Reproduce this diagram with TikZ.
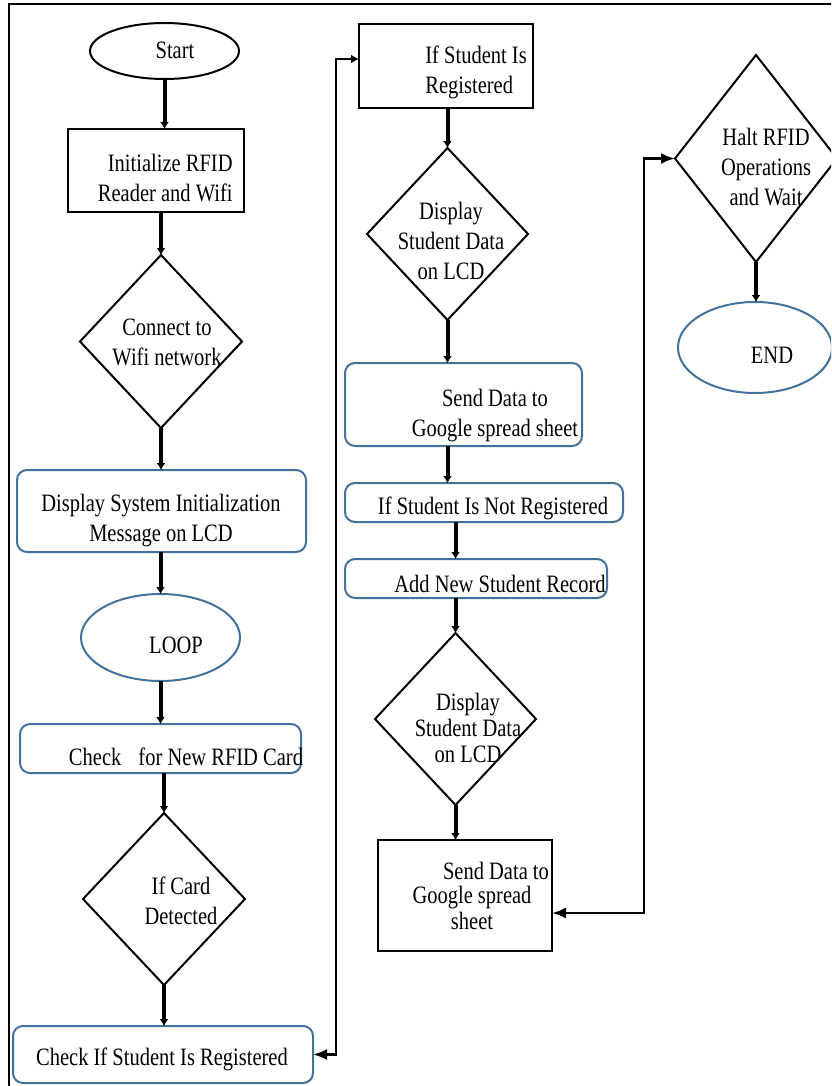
\documentclass[tikz,border=0pt]{standalone}
\usepackage{fontspec}
\setmainfont{Liberation Serif}[FakeStretch=0.82]
\usepackage{tikz}
\usetikzlibrary{shapes.geometric,arrows.meta,calc}
\definecolor{boxblue}{RGB}{65,113,156}
\tikzset{
	txt/.style={align=center,inner sep=0pt,font=\fontsize{12.5}{15}\selectfont},
	oval/.style={ellipse,draw=boxblue,line width=1pt,inner sep=0pt,outer sep=0pt},
	sqbox/.style={rectangle,draw=black,line width=1pt,inner sep=0pt,outer sep=0pt},
	rbox/.style={rectangle,rounded corners=5pt,draw=boxblue,line width=1pt,inner sep=0pt,outer sep=0pt},
	dia/.style={diamond,draw=black,line width=1pt,inner sep=0pt,outer sep=0pt},
	flow/.style={-{Latex[length=3.5pt,width=4.5pt]},line width=2pt},
	back/.style={{Latex[length=7pt,width=5.5pt]}-{Latex[length=7pt,width=5.5pt]},line width=1.2pt},
	backsmall/.style={{Latex[length=7pt,width=5.5pt]}-{Latex[length=4pt,width=4.5pt]},line width=1.2pt},
}
\begin{document}
\begin{tikzpicture}[x=0.5pt,y=-0.5pt]
	\useasboundingbox (0,0) rectangle (831,1086);
	\clip (0,0) rectangle (831,1086);
	\draw[line width=1.2pt] (9,1100) -- (9,4) -- (845,4);
	% left column
	\node[oval,draw=black,minimum width=74.5pt,minimum height=28pt] (start) at (164.5,51) {};
	\node[txt] (startT) at (175,50) {Start};
	\node[sqbox,minimum width=88pt,minimum height=41.5pt] (init) at (156,170.5) {};
	\node[txt,align=right,anchor=east] (initT) at (233,178) {Initialize RFID\\Reader and Wifi};
	\node[dia,minimum width=81pt,minimum height=86.5pt] (conn) at (161,341.5) {};
	\node[txt] (connT) at (167,342) {Connect to\\Wifi network};
	\node[rbox,minimum width=144.5pt,minimum height=41pt] (disp) at (161.5,511) {};
	\node[txt] (dispT) at (161,521) {Display System Initialization\\Message on LCD};
	\node[oval,minimum width=79.5pt,minimum height=43.5pt] (loop) at (160.5,637.5) {};
	\node[txt] (loopT) at (176,645) {LOOP};
	\node[rbox,minimum width=140.5pt,minimum height=24.5pt] (check) at (160.5,748.5) {};
	\node[txt] (checkT) at (186,757) {Check\hspace{6pt} for New RFID Card};
	\node[dia,minimum width=81pt,minimum height=86pt] (card) at (164,899) {};
	\node[txt] (cardT) at (181,901) {If Card\\Detected};
	\node[rbox,minimum width=150pt,minimum height=28.5pt] (chkreg) at (163,1054.5) {};
	\node[txt] (chkregT) at (162,1059) {Check If Student Is Registered};
	% middle column
	\node[sqbox,minimum width=87pt,minimum height=42pt] (ifreg) at (446,66) {};
	\node[txt,align=left,anchor=west] (ifregT) at (425,72) {If Student Is\\Registered};
	\node[dia,minimum width=80.5pt,minimum height=86pt] (disp1) at (447.5,234) {};
	\node[txt] (disp1T) at (451,241) {Display\\Student Data\\on LCD};
	\node[rbox,minimum width=118.5pt,minimum height=41.5pt] (send1) at (463.5,404.5) {};
	\node[txt] (send1T) at (495,416) {Send Data to\\Google spread sheet};
	\node[rbox,minimum width=139pt,minimum height=19.5pt] (notreg) at (484,502.5) {};
	\node[txt] (notregT) at (493,508) {If Student Is Not Registered};
	\node[rbox,minimum width=131pt,minimum height=19.5pt] (addrec) at (476,578.5) {};
	\node[txt] (addrecT) at (500,584) {Add New Student Record};
	\node[dia,minimum width=80.5pt,minimum height=86pt] (disp2) at (455.5,719) {};
	\node[txt,font=\fontsize{12.5}{13}\selectfont] (disp2T) at (468,728) {Display\\Student Data\\on LCD};
	\node[sqbox,minimum width=87pt,minimum height=55.5pt] (send2) at (465,895.5) {};
	\node[txt] (send2T) at (472,896) {\hspace*{24pt}Send Data to\\[-3pt]Google spread\\[-2pt]sheet};
	% right column
	\node[dia,minimum width=81pt,minimum height=103.5pt] (halt) at (756,158.5) {};
	\node[txt] (haltT) at (766,167) {Halt RFID\\Operations\\and Wait};
	\node[oval,minimum width=77pt,minimum height=45.5pt] (end) at (755,347.5) {};
	\node[txt] (endT) at (772,355) {END};
	% flow arrows
	\draw[flow] (start.south) -- (start.south |- init.north);
	\draw[flow] (init.south -| conn.north) -- (conn.north);
	\draw[flow] (conn.south) -- (conn.south |- disp.north);
	\draw[flow] (disp.south -| loop.north) -- (loop.north);
	\draw[flow] (loop.south) -- (loop.south |- check.north);
	\draw[flow] (check.south -| card.north) -- (card.north);
	\draw[flow] (card.south) -- (card.south |- chkreg.north);
	\draw[flow] (ifreg.south -| disp1.north) -- (disp1.north);
	\draw[flow] (disp1.south) -- (disp1.south |- send1.north);
	\draw[flow] (send1.south -| disp1.south) -- (notreg.north -| disp1.south);
	\draw[flow] (notreg.south -| disp2.north) -- (addrec.north -| disp2.north);
	\draw[flow] (addrec.south -| disp2.north) -- (disp2.north);
	\draw[flow] (disp2.south) -- (disp2.south |- send2.north);
	\draw[flow] (halt.south) -- (halt.south |- end.north);
	% return lines
	\draw[backsmall] (chkreg.east) -- ++(23,0) |- ([yshift=3.5pt]ifreg.west);
	\draw[back] ([yshift=-8.75pt]send2.east) -- ++(92,0) |- (halt.west);
\end{tikzpicture}
\end{document}
